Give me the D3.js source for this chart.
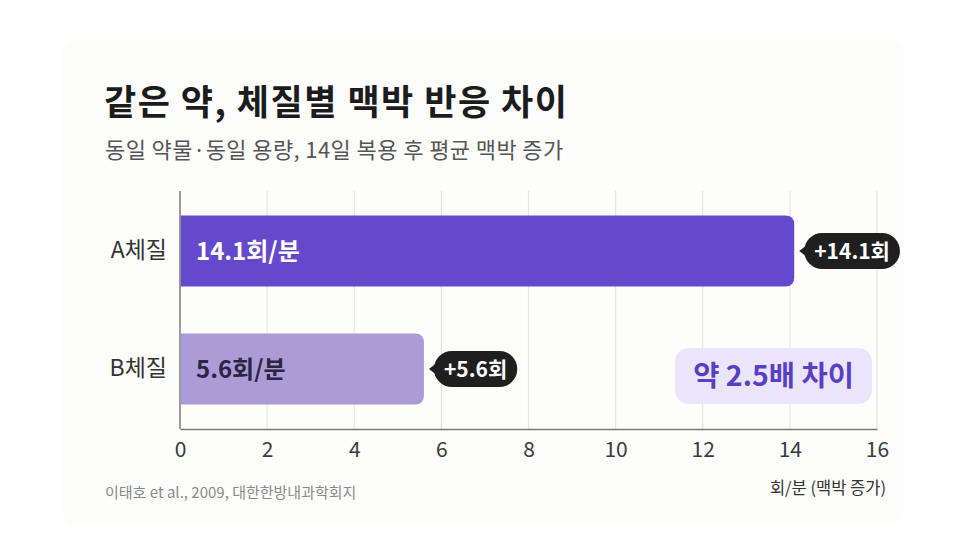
<!DOCTYPE html>
<html><head><meta charset="utf-8">
<script src="https://cdn.jsdelivr.net/npm/d3@7"></script>
<style>
html,body{margin:0;padding:0;background:#fff;}
svg{display:block;font-family:"Noto Sans CJK KR","Noto Sans",sans-serif;}
</style></head>
<body>
<svg id="c" width="966" height="545"></svg>
<script>
const categories = ["A체질", "B체질"];
const values = [14.1, 5.6];
const barLabels = ["14.1회/분", "5.6회/분"];
const badgeLabels = ["+14.1회", "+5.6회"];
const xTicks = [0, 2, 4, 6, 8, 10, 12, 14, 16];
const title = "같은 약, 체질별 맥박 반응 차이";
const subtitle = "동일 약물·동일 용량, 14일 복용 후 평균 맥박 증가";
const source = "이태호 et al., 2009, 대한한방내과학회지";
const unitLabel = "회/분 (맥박 증가)";
const ratioNote = "약 2.5배 차이";

(function () {
const svg = d3.select("#c");
const FONT = '"Noto Sans CJK KR","Noto Sans",sans-serif';
const barColors = ["#6549cc", "#ab9bd7"];
const labelColors = ["#ffffff", "#2a2540"];

// card
svg.append("rect").attr("x", 62).attr("y", 40).attr("width", 842).attr("height", 485)
  .attr("rx", 14).attr("fill", "#fdfdfc");

svg.append("text").attr("x", 104).attr("y", 115).text(title)
  .attr("font-size", 35).attr("font-weight", 700).attr("letter-spacing", 1.5).attr("fill", "#1c1c1c");
svg.append("text").attr("x", 105).attr("y", 158).text(subtitle)
  .attr("font-size", 22).attr("font-weight", 400).attr("letter-spacing", 0.4).attr("fill", "#555");

const x = d3.scaleLinear().domain([0, 16]).range([180, 877]);
const y = d3.scaleBand().domain(categories).range([192, 428]).paddingInner(0.4).paddingOuter(0.2);
const plotTop = 191, plotBottom = 429;

// gridlines
svg.append("g").selectAll("line").data(xTicks.filter(d => d > 0)).join("line")
  .attr("x1", d => x(d)).attr("x2", d => x(d)).attr("y1", plotTop).attr("y2", plotBottom)
  .attr("stroke", "#e4e4e4").attr("stroke-width", 1.2);

// x axis
const xAxis = d3.axisBottom(x).tickValues(xTicks).tickSize(0).tickPadding(13).tickFormat(d3.format("d"));
const gx = svg.append("g").attr("transform", `translate(0,${plotBottom})`).call(xAxis);
gx.select(".domain").attr("stroke", "#7a7a7a").attr("stroke-width", 1.5);
gx.selectAll("text").attr("font-size", 21).attr("fill", "#3a3a3a").attr("font-family", FONT);

// y axis
const yAxis = d3.axisLeft(y).tickSize(0).tickPadding(13);
const gy = svg.append("g").attr("transform", `translate(${x(0)},0)`).call(yAxis);
gy.select(".domain").remove();
svg.append("line").attr("x1", x(0)).attr("x2", x(0)).attr("y1", plotTop).attr("y2", plotBottom)
  .attr("stroke", "#7a7a7a").attr("stroke-width", 1.5);
gy.selectAll("text").attr("font-size", 23).attr("fill", "#333").attr("font-family", FONT);

// bars (right corners rounded)
function barPath(x0, x1, y0, h, r) {
  return `M${x0},${y0}H${x1 - r}Q${x1},${y0} ${x1},${y0 + r}V${y0 + h - r}Q${x1},${y0 + h} ${x1 - r},${y0 + h}H${x0}Z`;
}
const data = categories.map((c, i) => ({ c, v: values[i], i }));
svg.append("g").selectAll("path").data(data).join("path")
  .attr("d", d => barPath(x(0) + 0.8, x(d.v), y(d.c), y.bandwidth(), 9))
  .attr("fill", d => barColors[d.i]);

svg.append("g").selectAll("text").data(data).join("text")
  .attr("x", x(0) + 16).attr("y", d => y(d.c) + y.bandwidth() / 2)
  .attr("dy", "0.36em").text(d => barLabels[d.i])
  .attr("font-size", 24).attr("font-weight", 700).attr("fill", d => labelColors[d.i]);

// badges
const bh = 36;
data.forEach(d => {
  const cy = y(d.c) + y.bandwidth() / 2;
  const tip = x(d.v) + 5;
  const bx = tip + 5;
  const g = svg.append("g");
  const t = g.append("text").attr("x", bx + 10).attr("y", cy).attr("dy", "0.36em")
    .text(badgeLabels[d.i]).attr("font-size", 21).attr("font-weight", 700).attr("fill", "#fff");
  const w = t.node().getComputedTextLength() + 20;
  g.insert("rect", "text").attr("x", bx).attr("y", cy - bh / 2).attr("width", w).attr("height", bh)
    .attr("rx", bh / 2).attr("fill", "#1f1f1f");
  g.insert("path", "text").attr("d", `M${tip},${cy}L${bx + 4},${cy - 7}L${bx + 4},${cy + 7}Z`).attr("fill", "#1f1f1f");
});

// ratio note
const nx0 = 675, nx1 = 872, ny0 = 348, ny1 = 404;
svg.append("rect").attr("x", nx0).attr("y", ny0).attr("width", nx1 - nx0).attr("height", ny1 - ny0)
  .attr("rx", 14).attr("fill", "#ebe5fb");
svg.append("text").attr("x", (nx0 + nx1) / 2).attr("y", (ny0 + ny1) / 2).attr("dy", "0.36em")
  .attr("text-anchor", "middle").text(ratioNote)
  .attr("font-size", 28.5).attr("font-weight", 700).attr("fill", "#5a3fc4");

// unit label & source
svg.append("text").attr("x", 886).attr("y", 494).attr("text-anchor", "end").text(unitLabel)
  .attr("font-size", 16.5).attr("fill", "#333");
svg.append("text").attr("x", 105).attr("y", 498).text(source)
  .attr("font-size", 15).attr("fill", "#8a8a8a");
})();
</script>
</body></html>
